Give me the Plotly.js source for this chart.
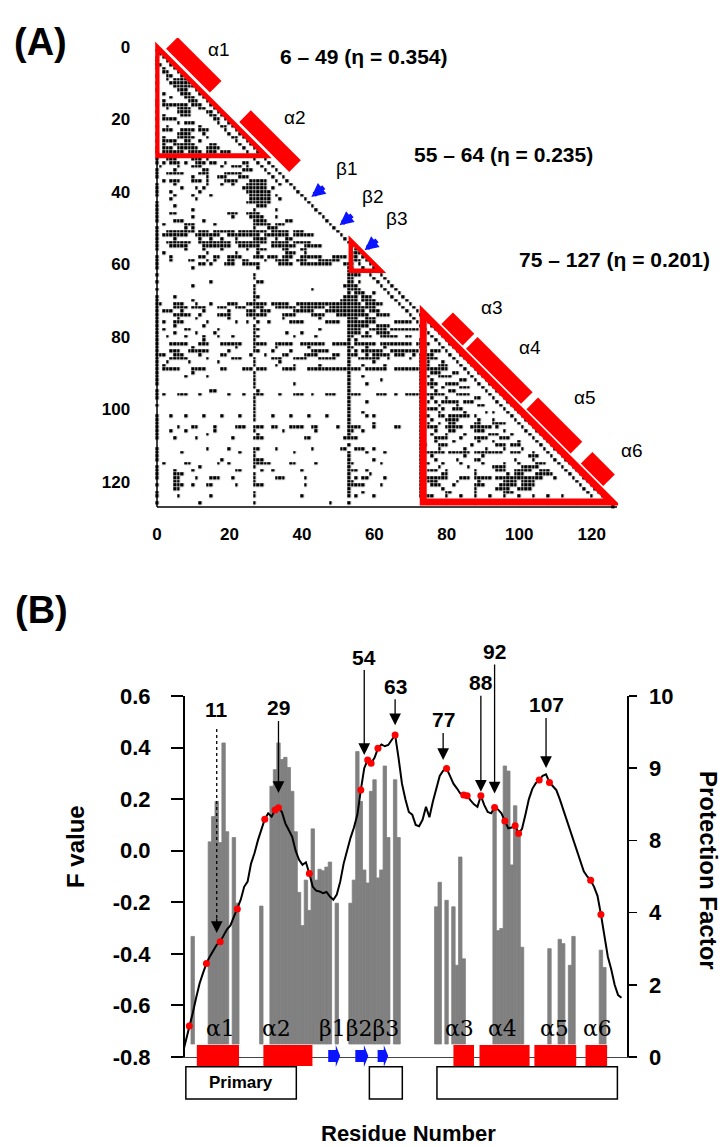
<!DOCTYPE html>
<html><head><meta charset="utf-8">
<script src="https://cdn.plot.ly/plotly-3.0.1.min.js"></script>
<style>html,body{margin:0;padding:0;background:#fff}#chart{width:725px;height:1147px}</style>
</head><body><div id="chart"></div>
<script>
// ================= Panel A data (contact map) =================
const nResidues = 128;
const contactRows = [
"","0","1","0,2","0,3","0,1,4","0,2,5","2-3,6","0,3-4,7","3,5-8",
"0,4-9","5-10","0,6-8,11","2,7-9,12","4,8-10,13","0,2,9-11,14","0,2-8,10-12,15","3,6-9,12-13,16","0,6-9,14-15,17","2,7-9,15-16,18",
"0,2-5,16-17,19","6,8-10,17,20","0,3,12,18-19,21","2-4,7-10,12-14,19,22","0,6-9,13,20,23","2,6-10,14,21-22,24","0,2-5,8-9,12,22,25","2,5-10,15-16,23,26","0,2-4,6-11,14-17,24,27","0,2-7,9-12,14-16,18-20,25,28",
"1-2,5-8,11,14,17,26,29","0,3-5,10-12,14,27,30","0,2,4-6,8,11-13,15-16,19,24-25,28,31","1,6,10-12,18,21-23,25,29,32","0,5,13-14,24-26,30,33","0,3-7,12-14,19-23,31,34","0,10,14,17-19,23-25,32,35","2,4-6,10-12,14,19-22,26-30,33,36","0,5,14,18,21,25-30,34,37","0,7,11,13,24-30,32,38",
"0,4,12,25-31,39","0,5,10,15,26-31,33,40","4,11,26-31,34,41","0,25-31,42","0,5,28-30,43","0,10,27,33,44","0,4-5,20-22,25-28,45","0,10,21,26-29,33,46","0,5-7,13,27-30,36-37,47","2,8-10,16,27-31,33-35,48",
"0,8,10,27,31-33,49","0,3-10,12-14,16-21,23-30,32-36,38-40,50","0,2-8,11-17,20-28,30-36,38-43,51","0,5,12,15,18,22,27-30,33,36-37,52","0,3-9,12-20,22-30,32-36,38-42,53","0,4-8,13-20,23-28,32-38,41-45,54","0,8,13,18,25,28-30,35-36,40-41,55","2,14,22,28,36-38,41,54-55,56","0,4,12-13,16-17,20-23,27-29,31-33,35-37,40-45,49-52,54-55,57","0,4,9-10,14,16,20-21,24-25,30,33-36,39-41,45-50,54-56,58",
"0,12-13,15,19-21,24-28,34-37,40-48,52-54,56,59","0,10,28,53-54,57,60","53-55,58,61","0,27,53-56,59,62","27,53-54,60,63","0,15,28-29,53-54,56,61,64","10,27,52-55,62,65","0,27,43,53-56,63,66","27,53,55-57,60,64,67","0,5,27-28,52-55,57-59,65,68",
"0,10,27,51-55,57-60,66,69","0-1,5-7,11,15,20-22,25-30,32-36,39-56,58-62,67,70","0,5-8,10-13,17-19,22-24,27-29,33-38,40-46,48-60,68,71","0,2-4,7,13,20,25-27,29-31,38-43,47-57,59-61,69,72","0,5-9,12,17-20,25-30,35-38,43-46,50-58,61-64,70,73","0,6,11,20,27,35,45,53-55,58-60,71,74","0,2,5-7,14,22,25,28,31,37-40,47-50,53-60,66-70,72,75","0,5,13,27,53-58,61-64,73,76","0,2,8-9,17,27-28,45,53-56,59-63,65-72,74,77","0,5,11,16,27,36,40,53-56,58,61-64,75,78",
"0,3,8,13,17,21,27-28,38,44,53-54,57-59,62-66,69-70,76,79","0,13,27,53,55,73,77,80","0,4-8,12-14,18-23,27-30,33-37,40-46,49-53,55-60,62-70,72-75,78,81","0,10,22,27,33,42,53-54,58,63,73-74,79,82","0,4-6,9-14,20,27-28,32,37,43-47,53,55,57-62,65-72,74,76-78,80,83","0-2,5-7,12,18-19,26,30,35-36,41-44,49-50,53-55,58,60-64,66-68,71,73-76,81,84","0,4-8,14,21-23,27,32-34,38-41,45-49,53,56-61,64,70,73-77,82,85","0,3,9,17,27,34,53,60,73,75,79,83,86","0,2,27,33,38,45,53,57,63,73-75,78-80,84,87","0,2-6,10-13,18-19,24-26,28-30,35-38,42-56,58-63,66-80,85,88",
"0,10,27,53,73,76-78,82-83,86,89","0,8,14,27,53,57,73,75,78-81,87,90","0,27,53,62,73,76,84-85,88,91","0,27,38,53,58,73,75-77,80-83,89,92","27,53,73,76,79,84-86,90,93","0,15-16,28,53,73,77,81-82,91,94","0,2,6-8,12,20,24,27-29,34,38-40,43,47-49,53-56,61-63,66,69-79,83-86,92,95","0,27,53,73,76,80,88-89,93,96","27,53,58,73,75,77,79-83,85-87,94,97","0,27,53,73,78,83,89-90,95,98",
"27,53,73,75-77,79,82-84,96,99","27,53,57,73,78,85,91,93,97,100","0,4,8,13,18,23,27,32,37,42,47,53,58,60,73-75,78-79,81-86,88,98,101","0,27,53,73,76,80-83,89,93,99,102","0,53,60,73,75,78,81-82,88-89,93-96,100,103","0,6,10-11,16,22-24,27-29,32-33,37-40,43-44,50,53-56,60,66-67,73,75-77,80-84,87-92,94,101,104","0,4,8,16,27,35,44,53-54,57,73,77,81-82,88-90,96,102,105","0,14,28,53,73,76,80,85,92-94,98,103,106","0,5,11,21,27-29,41-42,52-55,73,77-80,84,88-91,95-97,104,107","73,77,82,89,93,100,105,108",
"53,73-74,78-80,87,94-96,98-100,106,109","0,14,20,27-28,33,43,51-52,55-57,60,73,78,85,91,96,101,107,110","0,7,23,27,38,53,58,63,73-79,81-86,88-95,98-100,104,108,111","0,27,53,73,76,85,90,103-105,109,112","0,18,27-29,53,60,73,77,83,88-89,99,104,110,113","2,8-9,17,20,27-31,37-38,44,53-54,62,73-75,79,84,90,96,100,105-107,111,114","0,12,27,53,73,78,86,93-96,101-105,112,115","0,5,10,22-23,29,32,40,53-55,58,73,75-77,80,88,94-96,99-103,106-108,113,116","0,5-7,27,53,59,73,79-80,88,97,99-101,105-109,114,117","0,5-6,11,15-17,21,27,33-35,41,53,55,57-58,63,73-80,84-86,88-92,94-106,110,115,118",
"5-6,27,53-54,73,75-77,83,89,96-99,101-104,116,119","0,5-7,10,14-15,22,27-29,41,53-57,62,73,76-78,82,88-90,95-99,101-104,117,120","5-6,53,73,79,88,94-97,100-103,118,121","0,27,53,57,73,80-81,88,96-98,119,122","0,6,15,27,40,53,55,60,73-76,80,84,88,92,96,100,104,108,112,120,123","124","0,12,27,48,53,75,80,88,94,100,108,116,125","126"
];
const domainTriangles = [[0, 30], [53.5, 61.8], [73.5, 125.6]];
const domainTriangleWidth = [5, 4.5, 7];
const domainLabels = ['6 – 49 (η = 0.354)', '55 – 64 (η = 0.235)', '75 – 127 (η = 0.201)'];
const helixNames = ['α1', 'α2', 'α3', 'α4', 'α5', 'α6'];
const helixA = [[1.5, 13.6], [21.7, 35.5], [77.5, 83.4], [84.3, 99.5], [101, 113.2], [116, 122.2]];
const strandNames = ['β1', 'β2', 'β3'];
const strandA = [42, 49.8, 56.7];
const axisTicksA = [0, 20, 40, 60, 80, 100, 120];

// ================= Panel B data =================
const residueStart = 1;
const fValue = [
 -0.79,-0.74,-0.68,-0.63,-0.57,-0.515,-0.475,-0.437,-0.41,-0.385,
 -0.365,-0.353,-0.33,-0.305,-0.29,-0.255,-0.226,-0.19,-0.14,-0.12,
 -0.05,-0.01,0.04,0.08,0.122,0.145,0.132,0.158,0.167,0.15,
 0.106,0.08,0.054,0.0,-0.035,-0.055,-0.045,-0.088,-0.14,-0.155,
 -0.158,-0.165,-0.16,-0.178,-0.19,-0.17,-0.12,-0.05,0.003,0.05,
 0.09,0.14,0.235,0.32,0.352,0.339,0.36,0.397,0.412,0.405,
 0.41,0.43,0.449,0.36,0.26,0.2,0.15,0.14,0.1,0.095,
 0.12,0.17,0.13,0.19,0.245,0.29,0.31,0.319,0.29,0.26,
 0.242,0.222,0.216,0.213,0.195,0.18,0.17,0.213,0.177,0.15,
 0.145,0.168,0.16,0.145,0.115,0.087,0.09,0.097,0.067,0.085,
 0.14,0.2,0.24,0.262,0.274,0.29,0.296,0.265,0.25,0.235,
 0.2,0.16,0.12,0.08,0.04,0.0,-0.049,-0.08,-0.1,-0.115,
 -0.14,-0.175,-0.247,-0.33,-0.41,-0.46,-0.52,-0.56,-0.57];
const dotResidues = [3, 8, 12, 17, 25, 28, 29, 38, 53, 55, 56, 58, 63, 78, 83, 84, 88, 92, 95, 98, 99, 105, 108, 120, 123];
const pfResidues = [4, 9, 10, 11, 12, 13, 14, 16, 17, 24,
  27, 28, 29, 30, 31, 32, 33, 34, 35, 36, 37, 38, 39, 40, 41, 42, 43, 44, 46,
  50, 51, 52, 53, 54, 55, 56, 57, 58, 59, 60, 61, 63, 64,
  75, 76, 78, 80, 81, 82, 83,
  92, 93, 94, 95, 96, 97, 98, 99, 100,
  108, 111, 112, 114, 115, 123, 124];
const pfTop = [1.67, 2.98, 3.33, 3.54, 2.97, 4.35, 3.12, 3.04, 2.13, 2.09,
  3.75, 3.98, 4.35, 4.12, 4.15, 4.01, 3.68, 3.12, 2.28, 1.82, 2.45, 2.03, 3.16, 2.45, 2.60, 2.58, 2.63, 2.70, 2.13,
  2.13, 2.45, 4.23, 3.54, 2.59, 2.41, 3.68, 3.84, 2.48, 2.59, 4.03, 3.04, 3.84, 3.04,
  2.08, 2.42, 2.17, 2.08, 1.27, 2.77, 1.36,
  3.45, 1.75, 1.78, 4.03, 3.96, 2.66, 3.48, 3.05, 1.52,
  1.50, 1.63, 1.57, 1.27, 1.67, 1.48, 1.24];
const pfBase = 0.18;
const pfTickVals = [0, 1, 2, 3, 4, 5];
const pfTickText = ['0', '2', '4', '8', '9', '10'];
const fTicks = [-0.8, -0.6, -0.4, -0.2, 0.0, 0.2, 0.4, 0.6];
const arrowResidues = [11, 29, 54, 63, 77, 88, 92, 107];
const arrowTipF = [-0.319, 0.224, 0.371, 0.487, 0.352, 0.229, 0.222, 0.321];
const arrowLabelDy = [-223, -85, -98, -39, -40, -109, -142, -63];
const dashedArrowF = [0.472, -0.288];
const helixB = [[5.2, 17.5], [24.6, 38.9], [80, 86], [87.6, 102.2], [103.6, 115.8], [118.5, 124.8]];
const strandB = [[43.5, 47], [51.4, 55.2], [57.9, 61]];
const ssLabels = ['α1', 'α2', 'β1β2β3', 'α3', 'α4', 'α5', 'α6'];
const ssLabelX = [12, 28.5, 52.5, 81.7, 94.4, 109.4, 122.1];
const ssLabelF = -0.688;
const structBoxes = [[2, 34.2], [55.5, 65.1], [75.2, 127.8]];
const structBoxText = ['Primary', '', ''];

// ================= Build figure =================
const W = 725, H = 1147;
const RED = '#ff0000', BLUE = '#0a14ff', GRAY = '#808080';
const idx = Array.from({length: nResidues}, (_, i) => i);
const z = idx.map(() => new Array(nResidues).fill(0));
contactRows.forEach((s, i) => {
  if (!s) return;
  s.split(',').forEach(tok => {
    const p = tok.split('-').map(Number);
    const a = p[0], b = p.length > 1 ? p[1] : p[0];
    for (let j = a; j <= b; j++) z[i][j] = 1;
  });
});
const resX = fValue.map((_, i) => i + residueStart);

const data = [
  {type: 'heatmap', x: idx, y: idx, z: z, xaxis: 'x', yaxis: 'y', zmin: 0, zmax: 1,
   colorscale: [[0, 'rgba(255,255,255,0)'], [1, '#000000']], showscale: false,
   xgap: 0.6, ygap: 0.6, hoverinfo: 'skip'},
  {type: 'bar', x: pfResidues, y: pfTop.map(v => v - pfBase), base: pfBase, xaxis: 'x2', yaxis: 'y2',
   width: 1.0, marker: {color: GRAY, line: {width: 0.8, color: GRAY}}, hoverinfo: 'skip'},
  {type: 'scatter', mode: 'lines', x: resX, y: fValue, xaxis: 'x2', yaxis: 'y3',
   line: {color: '#000', width: 2}, hoverinfo: 'skip'},
  {type: 'scatter', mode: 'markers', x: dotResidues, y: dotResidues.map(r => fValue[r - residueStart]),
   xaxis: 'x2', yaxis: 'y3', marker: {color: RED, size: 7}, hoverinfo: 'skip'},
  {type: 'scatter', mode: 'markers', x: structBoxes.map(b => b[0]), y: structBoxes.map(() => 0),
   xaxis: 'x2', yaxis: 'y4', marker: {opacity: 0}, hoverinfo: 'skip'}
];

const shapes = [];
// Panel A spines
shapes.push({type: 'line', xref: 'x', yref: 'y', x0: 0, x1: 0, y0: -0.5, y1: 127, line: {color: '#000', width: 1.5}});
shapes.push({type: 'line', xref: 'x', yref: 'y', x0: 0, x1: 127, y0: 127, y1: 127, line: {color: '#000', width: 1.5}});
// Helix bars along diagonal
const o1 = 1.0, o2 = 4.2;
helixA.forEach(([t0, t1]) => {
  shapes.push({type: 'path', xref: 'x', yref: 'y', layer: 'above',
    path: `M${t0 + o1},${t0 - o1} L${t1 + o1},${t1 - o1} L${t1 + o2},${t1 - o2} L${t0 + o2},${t0 - o2} Z`,
    fillcolor: RED, line: {width: 0}});
});
// Domain triangles
domainTriangles.forEach(([s, e], k) => {
  shapes.push({type: 'path', xref: 'x', yref: 'y', layer: 'above',
    path: `M${s},${s} L${s},${e} L${e},${e} Z`, fillcolor: 'rgba(0,0,0,0)',
    line: {color: RED, width: domainTriangleWidth[k]}});
});
// Panel B secondary structure
helixB.forEach(([a, b]) => {
  shapes.push({type: 'rect', xref: 'x2', yref: 'y4', x0: a, x1: b, y0: -0.5, y1: 0.55, fillcolor: RED, line: {width: 0}});
});
strandB.forEach(([a, b]) => {
  const h = 1.3;
  shapes.push({type: 'path', xref: 'x2', yref: 'y4',
    path: `M${a},-0.3 L${b - h},-0.3 L${b - h},-0.55 L${b},0 L${b - h},0.55 L${b - h},0.3 L${a},0.3 Z`,
    fillcolor: BLUE, line: {width: 0}});
});
structBoxes.forEach(([a, b]) => {
  shapes.push({type: 'rect', xref: 'x2', yref: 'y4', x0: a, x1: b, y0: -2.15, y1: -0.535,
    fillcolor: '#fff', line: {color: '#000', width: 1.5}});
});
// dashed arrow shaft for residue 11
shapes.push({type: 'line', xref: 'x2', yref: 'y3', x0: arrowResidues[0], x1: arrowResidues[0],
  y0: dashedArrowF[0], y1: dashedArrowF[1], line: {color: '#000', width: 1.3, dash: 'dot'}});

const ann = [];
function paperText(text, px, py, size, extra) {
  ann.push(Object.assign({xref: 'paper', yref: 'paper', x: px / W, y: 1 - py / H, text: text,
    showarrow: false, xanchor: 'center', yanchor: 'middle',
    font: {size: size, color: '#000', weight: 'bold'}}, extra || {}));
}
paperText('(A)', 40, 42, 38);
paperText('(B)', 41, 610, 38);
const domainLabelPos = [[278, 56.5], [412, 155], [517, 259]];
domainLabels.forEach((t, k) => paperText(t, domainLabelPos[k][0], domainLabelPos[k][1], 21, {xanchor: 'left'}));
const helixLabelPos = [[219, 49], [295, 117.5], [491.7, 307.5], [530, 347.5], [585, 397.5], [632, 451]];
helixNames.forEach((t, k) => paperText(t, helixLabelPos[k][0], helixLabelPos[k][1], 19, {font: {size: 19, color: '#000', weight: 'normal'}}));
const strandLabelPos = [[346.7, 168.3], [373.3, 196.7], [396.7, 218.3]];
strandNames.forEach((t, k) => paperText(t, strandLabelPos[k][0], strandLabelPos[k][1], 19, {font: {size: 19, color: '#000', weight: 'normal'}}));
// blue strand arrows in panel A
strandA.forEach(t => {
  ann.push({xref: 'x', yref: 'y', x: t + 0.6, y: t - 0.6, ax: 14, ay: -11, text: '', showarrow: true,
    arrowhead: 2, arrowsize: 0.55, arrowwidth: 5, arrowcolor: BLUE});
});
// Panel B arrows
arrowResidues.forEach((r, k) => {
  const dashed = k === 0;
  ann.push({xref: 'x2', yref: 'y3', x: r, y: arrowTipF[k], ax: 0, ay: arrowLabelDy[k], text: String(r),
    showarrow: true, arrowhead: 2, arrowsize: 1.8, arrowwidth: 1.3,
    arrowcolor: dashed ? 'rgba(0,0,0,0)' : '#000', font: {size: 21, color: '#000', weight: 'bold'}});
  if (dashed) {
    ann.push({xref: 'x2', yref: 'y3', x: r, y: arrowTipF[k], ax: 0, ay: -16, text: '',
      showarrow: true, arrowhead: 2, arrowsize: 1.8, arrowwidth: 1.3, arrowcolor: '#000'});
  }
});
ssLabels.forEach((t, k) => {
  ann.push({xref: 'x2', yref: 'y3', x: ssLabelX[k], y: ssLabelF, text: t, showarrow: false,
    font: {family: 'DejaVu Serif, serif', size: 22, color: '#000'}});
});
structBoxes.forEach((b, k) => {
  if (structBoxText[k]) ann.push({xref: 'x2', yref: 'y4', x: (b[0] + b[1]) / 2, y: -1.35, text: structBoxText[k],
    showarrow: false, font: {size: 17, color: '#000', weight: 'bold'}});
});
paperText('F value', 75, 847, 24, {textangle: -90});
paperText('Protection Factor', 709, 870, 24, {textangle: 90});
paperText('Residue Number', 408, 1133, 22);

const tickFontA = {size: 17, color: '#000', weight: 'bold'};
const tickFontB = {size: 22, color: '#000', weight: 'bold'};
const layout = {
  width: W, height: H, margin: {l: 0, r: 0, t: 0, b: 0},
  paper_bgcolor: '#fff', plot_bgcolor: 'rgba(0,0,0,0)', showlegend: false,
  font: {family: 'Liberation Sans, Arial, Helvetica, sans-serif', color: '#000'},
  xaxis: {domain: [0.21407, 0.85255], range: [-0.5, 127.3], anchor: 'y', tickvals: axisTicksA, ticks: '',
    showgrid: false, zeroline: false, showline: false, tickfont: tickFontA, ticklabelstandoff: 13, fixedrange: true},
  yaxis: {domain: [0.55641, 0.96696], range: [127.5, -2.5], anchor: 'x', tickvals: axisTicksA, ticks: '',
    showgrid: false, zeroline: false, showline: false, tickfont: tickFontA, ticklabelstandoff: 24, fixedrange: true},
  xaxis2: {domain: [0.25517, 0.86483], range: [1.75, 130.6], anchor: 'y2', showticklabels: false, ticks: '',
    showgrid: false, zeroline: false, showline: true, linecolor: '#444', linewidth: 1},
  yaxis2: {domain: [0.07847, 0.39320], range: [0, 5], anchor: 'x2', side: 'right', tickvals: pfTickVals,
    ticktext: pfTickText, ticks: 'outside', ticklen: 8, tickwidth: 1.5, tickcolor: '#000', showline: true,
    linecolor: '#000', linewidth: 1.5, showgrid: false, zeroline: false, tickfont: tickFontB, ticklabelstandoff: 8},
  yaxis3: {overlaying: 'y2', anchor: 'x2', side: 'left', range: [-0.8, 0.6], tickvals: fTicks,
    ticktext: fTicks.map(v => v.toFixed(1)), ticks: 'outside', ticklen: 12, tickwidth: 2, tickcolor: '#000',
    showline: true, linecolor: '#000', linewidth: 2, showgrid: false, zeroline: false, tickfont: tickFontB,
    ticklabelstandoff: 16},
  yaxis4: {domain: [0.03575, 0.09677], range: [-2.5, 1], anchor: 'x2', visible: false, fixedrange: true},
  shapes: shapes, annotations: ann
};
Plotly.newPlot('chart', data, layout, {staticPlot: true, displayModeBar: false});
</script>
</body></html>
